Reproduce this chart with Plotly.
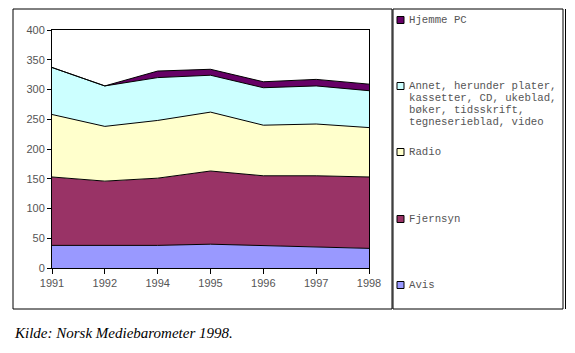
import plotly.graph_objects as go

years = ["1991", "1992", "1994", "1995", "1996", "1997", "1998"]
avis = [38, 38, 38, 40, 38, 35, 33]
fjernsyn = [115, 108, 113, 123, 117, 120, 120]
radio = [105, 92, 97, 99, 85, 87, 83]
annet = [79, 68, 72, 62, 63, 64, 62]
hjemme_pc = [0, 0, 11, 10, 10, 11, 11]

series = [
    ("Avis", avis, "#9999FF"),
    ("Fjernsyn", fjernsyn, "#993366"),
    ("Radio", radio, "#FFFFCC"),
    ("Annet, herunder plater, kassetter, CD, ukeblad, bøker, tidsskrift, tegneserieblad, video", annet, "#CCFFFF"),
    ("Hjemme PC", hjemme_pc, "#660066"),
]

legend_lines = {
    "Hjemme PC": ["Hjemme PC"],
    "Annet": ["Annet, herunder plater,", "kassetter, CD, ukeblad,", "bøker, tidsskrift,", "tegneserieblad, video"],
    "Radio": ["Radio"],
    "Fjernsyn": ["Fjernsyn"],
    "Avis": ["Avis"],
}
legend_colors = {"Hjemme PC": "#660066", "Annet": "#CCFFFF", "Radio": "#FFFFCC",
                 "Fjernsyn": "#993366", "Avis": "#9999FF"}
legend_y = {"Hjemme PC": 20, "Annet": 86, "Radio": 152, "Fjernsyn": 219, "Avis": 285}

fig = go.Figure()
for name, vals, col in series:
    fig.add_trace(go.Scatter(
        x=years, y=vals, name=name, mode="lines", stackgroup="one",
        line=dict(color="black", width=1), fillcolor=col, showlegend=False,
    ))

W, H = 575, 353
L, R, T, B = 52, 369, 30, 268


def px(x):
    return (x - L) / (R - L)


def py(y):
    return (B - y) / (B - T)


shapes = [
    dict(type="rect", xref="paper", yref="paper", x0=px(13), x1=px(392), y0=py(309), y1=py(9),
         line=dict(color="black", width=1)),
    dict(type="rect", xref="paper", yref="paper", x0=px(393), x1=px(563), y0=py(309), y1=py(9),
         line=dict(color="black", width=1)),
    dict(type="line", xref="paper", yref="paper", x0=px(565.5), x1=px(565.5), y0=py(309), y1=py(9),
         line=dict(color="black", width=1)),
]
annotations = []
mono = dict(family="Liberation Mono", size=10.7, color="#555")
for key, lines in legend_lines.items():
    y0 = legend_y[key]
    shapes.append(dict(type="rect", xref="paper", yref="paper",
                       x0=px(397), x1=px(404), y0=py(y0 + 3.5), y1=py(y0 - 3.5),
                       fillcolor=legend_colors[key], line=dict(color="black", width=1)))
    for i, t in enumerate(lines):
        annotations.append(dict(text=t, xref="paper", yref="paper", x=px(407), y=py(y0 + i * 12),
                                xanchor="left", yanchor="middle", showarrow=False, font=mono))

annotations.append(dict(text="<i>Kilde: Norsk Mediebarometer 1998.</i>", xref="paper", yref="paper",
                        x=px(12), y=py(333), xanchor="left", yanchor="middle", showarrow=False,
                        font=dict(family="Liberation Serif", size=15, color="black")))

fig.update_layout(
    width=W, height=H,
    margin=dict(l=L, r=W - R, t=T, b=H - B),
    paper_bgcolor="white", plot_bgcolor="white",
    shapes=shapes, annotations=annotations,
    font=dict(family="Liberation Sans", size=11, color="#555"),
)
fig.update_xaxes(type="category", range=[0, 6], showgrid=False, showline=True, linecolor="black",
                 mirror=True, ticks="outside", ticklen=5, tickcolor="black", zeroline=False,
                 tickfont=dict(family="Liberation Sans", size=11, color="#555"))
fig.update_yaxes(range=[0, 400], dtick=50, showgrid=False, showline=True, linecolor="black",
                 mirror=True, ticks="outside", ticklen=4, tickcolor="black", zeroline=False,
                 tickfont=dict(family="Liberation Sans", size=11, color="#555"))

fig.write_html("out.html")
